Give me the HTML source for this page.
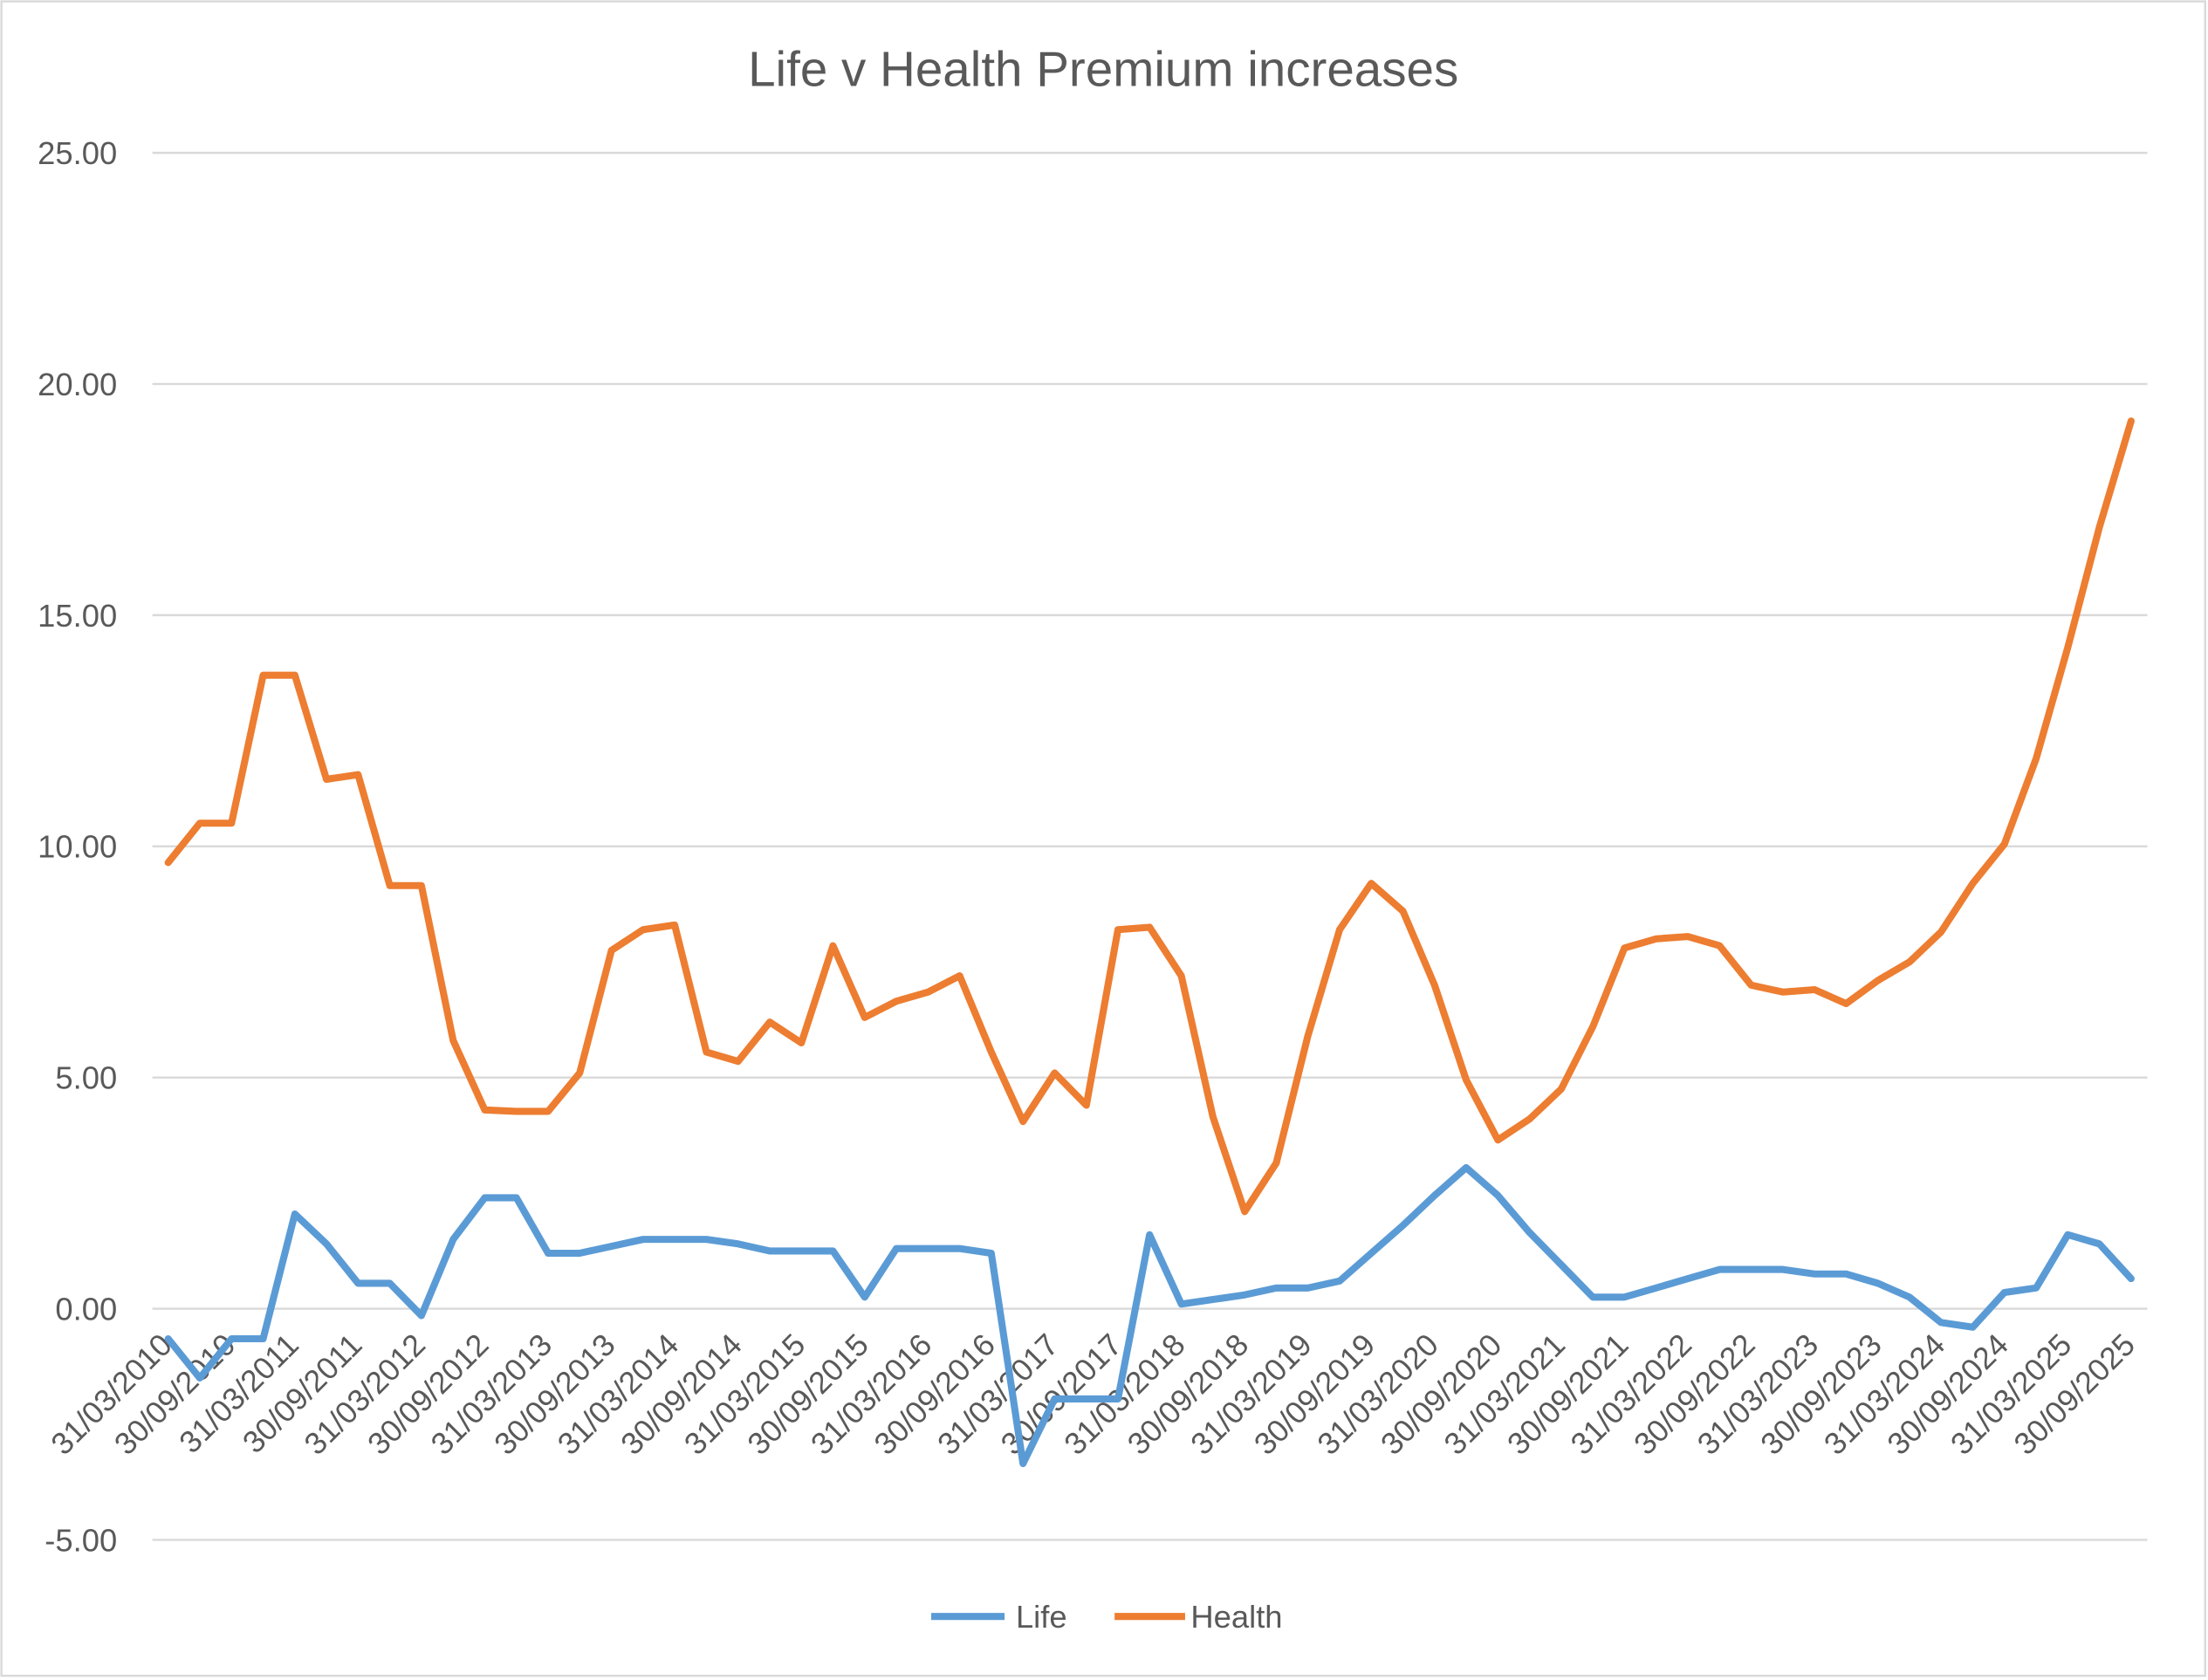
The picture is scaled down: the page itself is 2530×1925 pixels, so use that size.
<!DOCTYPE html>
<html><head><meta charset="utf-8"><style>
html,body{margin:0;padding:0;background:#fff;}
svg{display:block;}
text{font-family:"Liberation Sans",sans-serif;fill:#595959;}
</style></head><body>
<svg id="c" width="2530" height="1925" viewBox="0 0 1565 1190" preserveAspectRatio="none" xmlns="http://www.w3.org/2000/svg">
<rect x="1" y="1" width="1562" height="1186" fill="#fff" stroke="#d9d9d9" stroke-width="1.5"/>
<text x="782" y="61" font-size="35" text-anchor="middle">Life v Health Premium increases</text>
<g id="grid"></g>
<g id="lbl"></g>
<polyline id="life" fill="none" stroke="#5b9bd5" stroke-width="5" stroke-linejoin="round" stroke-linecap="round"/>
<polyline id="health" fill="none" stroke="#ed7d31" stroke-width="5" stroke-linejoin="round" stroke-linecap="round"/>
<line x1="660" y1="1145" x2="712" y2="1145" stroke="#5b9bd5" stroke-width="5"/>
<text x="720" y="1153" font-size="22.5">Life</text>
<line x1="790" y1="1145" x2="840" y2="1145" stroke="#ed7d31" stroke-width="5"/>
<text x="844" y="1153" font-size="22.5">Health</text>
</svg>
<script>
var ns="http://www.w3.org/2000/svg";
function Y(v){return 927-v*32.75;}
function X(i){return 119.2+22.44*i;}
var g=document.getElementById('grid');
for(var v=-5;v<=25;v+=5){
 var l=document.createElementNS(ns,'line');l.setAttribute('x1',108);l.setAttribute('x2',1522);
 l.setAttribute('y1',Y(v));l.setAttribute('y2',Y(v));l.setAttribute('stroke','#d9d9d9');l.setAttribute('stroke-width','1.5');g.appendChild(l);
 var t=document.createElementNS(ns,'text');t.setAttribute('x',83);t.setAttribute('y',Y(v)+8);t.setAttribute('text-anchor','end');t.setAttribute('font-size','22.5');t.textContent=v.toFixed(2);g.appendChild(t);
}
var lb=document.getElementById('lbl');
for(var k=0;k<32;k++){
 var i=2*k, yr=2010+Math.floor(k/2), s=(k%2==0?'31/03/':'30/09/')+yr;
 var t=document.createElementNS(ns,'text');var x=X(i)+4,y=954;
 t.setAttribute('x',x);t.setAttribute('y',y);t.setAttribute('text-anchor','end');t.setAttribute('font-size','22');
 t.setAttribute('transform','rotate(-45 '+x+' '+y+')');t.textContent=s;lb.appendChild(t);
}
var H=[9.65,10.5,10.5,13.7,13.7,11.45,11.55,9.15,9.15,5.8,4.3,4.27,4.27,5.1,7.75,8.2,8.3,5.55,5.35,6.2,5.75,7.85,6.3,6.65,6.85,7.2,5.55,4.05,5.1,4.4,8.2,8.25,7.2,4.15,2.1,3.15,5.9,8.2,9.2,8.6,7.0,4.95,3.65,4.1,4.75,6.1,7.8,8.0,8.05,7.85,7.0,6.85,6.9,6.6,7.1,7.5,8.15,9.2,10.05,11.9,14.3,16.9,19.2];
var L=[-0.65,-1.5,-0.65,-0.65,2.05,1.4,0.55,0.55,-0.15,1.5,2.4,2.4,1.2,1.2,1.35,1.5,1.5,1.5,1.4,1.25,1.25,1.25,0.25,1.3,1.3,1.3,1.2,-3.35,-1.95,-1.95,-1.95,1.6,0.1,0.2,0.3,0.45,0.45,0.6,1.2,1.8,2.45,3.05,2.45,1.65,0.95,0.25,0.25,0.45,0.65,0.85,0.85,0.85,0.75,0.75,0.55,0.25,-0.3,-0.4,0.35,0.45,1.6,1.4,0.65];
function pts(a){return a.map(function(v,i){return X(i).toFixed(1)+','+Y(v).toFixed(1);}).join(' ');}
document.getElementById('health').setAttribute('points',pts(H));
document.getElementById('life').setAttribute('points',pts(L));
</script>
</body></html>
